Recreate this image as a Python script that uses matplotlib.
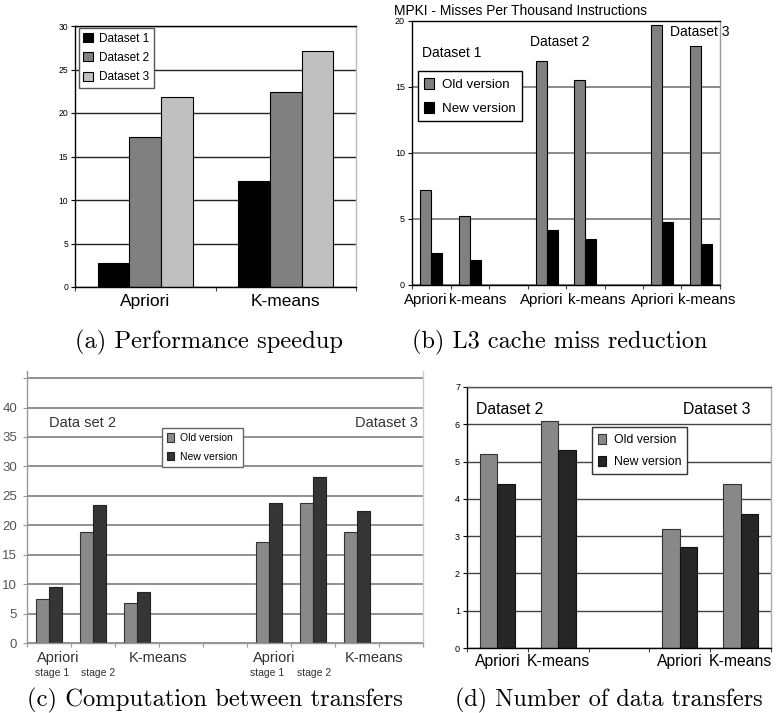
import numpy as np
import matplotlib
matplotlib.use("Agg")
import matplotlib.pyplot as plt

plt.rcParams['font.family'] = ['Liberation Sans', 'DejaVu Sans']

# (a) performance speedup
speedup_apps = ["Apriori", "K-means"]
speedup_ds1 = [2.8, 12.2]
speedup_ds2 = [17.2, 22.4]
speedup_ds3 = [21.8, 27.1]

# (b) L3 cache MPKI, slots with gaps between datasets
mpki_labels = ["Apriori", "k-means", "Apriori", "k-means", "Apriori", "k-means"]
mpki_slots = [0, 1, 3, 4, 6, 7]
mpki_old = [7.2, 5.2, 17.0, 15.5, 19.7, 18.1]
mpki_new = [2.4, 1.9, 4.2, 3.5, 4.8, 3.1]

# (c) computation between transfers
comp_slots = [0, 1, 2, 5, 6, 7]
comp_old = [7.5, 18.8, 6.8, 17.2, 23.7, 18.8]
comp_new = [9.5, 23.4, 8.6, 23.8, 28.2, 22.5]

# (d) number of data transfers
xfer_labels = ["Apriori", "K-means", "", "Apriori", "K-means"]
xfer_slots = [0, 1, 3, 4]
xfer_old = [5.2, 6.1, 3.2, 4.4]
xfer_new = [4.4, 5.3, 2.7, 3.6]

W, H = 777, 713
fig = plt.figure(figsize=(W / 100, H / 100), dpi=100)
renderer = fig.canvas.get_renderer()


def px_axes(left, top, right, bottom):
    return fig.add_axes([left / W, 1 - bottom / H, (right - left) / W, (bottom - top) / H])


def caption(x0, x1, y, s):
    # scale the font so the caption spans the same width as in the paper
    t = fig.text((x0 + x1) / 2 / W, 1 - y / H, s, family='cmr10', fontsize=14, ha='center', va='center')
    w = t.get_window_extent(renderer).width
    t.set_fontsize(14 * (x1 - x0) / w)


def style(ax, nslots, left='black', bottom='black', top='black', right='#bbbbbb'):
    ax.set_xlim(-0.5, nslots - 0.5)
    ax.spines['left'].set_color(left)
    ax.spines['bottom'].set_color(bottom)
    ax.spines['top'].set_color(top)
    ax.spines['right'].set_color(right)
    for s in ax.spines.values():
        s.set_linewidth(1.0)
    ax.set_xticks(np.arange(nslots + 1) - 0.5)
    ax.set_xticklabels([])
    ax.tick_params(axis='x', which='major', length=3, color='#444444')
    ax.set_axisbelow(True)


# ---- (a)
ax = px_axes(75, 26, 356, 287)
x = np.arange(len(speedup_apps))
bw = 0.225
ax.bar(x - bw, speedup_ds1, bw, color='black', edgecolor='black', lw=0.8, label='Dataset 1')
ax.bar(x, speedup_ds2, bw, color='#808080', edgecolor='black', lw=0.8, label='Dataset 2')
ax.bar(x + bw, speedup_ds3, bw, color='#c0c0c0', edgecolor='black', lw=0.8, label='Dataset 3')
ax.set_ylim(0, 30)
ax.set_yticks(range(0, 31, 5))
ax.yaxis.grid(True, color='#222222', lw=1.0)
style(ax, 2)
ax.set_xticks(x, minor=True)
ax.set_xticklabels(speedup_apps, minor=True, fontsize=12.5)
ax.tick_params(axis='x', which='minor', length=0, pad=5)
ax.tick_params(axis='y', labelsize=6.2, length=3, pad=2)
ax.legend(loc='upper left', bbox_to_anchor=(0.0, 1.005), fontsize=8.5, frameon=True, fancybox=False,
          edgecolor='#555555', framealpha=1, handlelength=0.8, handleheight=0.8, handletextpad=0.5,
          borderpad=0.4, labelspacing=0.6, borderaxespad=0.3)
caption(75, 342, 342, "(a) Performance speedup")

# ---- (b)
ax = px_axes(412, 21, 720, 285)
bw = 0.29
slots = np.array(mpki_slots)
ax.bar(slots - bw / 2, mpki_old, bw, color='#808080', edgecolor='black', lw=0.8, label='Old version')
ax.bar(slots + bw / 2, mpki_new, bw, color='black', edgecolor='black', lw=0.8, label='New version')
ax.set_ylim(0, 20)
ax.set_yticks(range(0, 21, 5))
ax.yaxis.grid(True, color='#777777', lw=1.2)
style(ax, 8, right='#999999')
ax.tick_params(axis='y', labelsize=6.5, length=3, pad=2)
# category names sit a little apart from the bar pairs in the original
for xl, s in zip([-0.14, 1.21, 2.88, 4.31, 5.76, 7.16], mpki_labels):
    ax.text(xl, -1.1, s, fontsize=10.8, ha='center', va='center')
ax.text(-0.06, 1.01, "MPKI - Misses Per Thousand Instructions", transform=ax.transAxes,
        fontsize=9.9, ha='left', va='bottom')
ax.text(-0.24, 17.6, "Dataset 1", fontsize=10, ha='left', va='center')
ax.text(2.57, 18.4, "Dataset 2", fontsize=10, ha='left', va='center')
ax.text(6.19, 19.2, "Dataset 3", fontsize=10, ha='left', va='center')
ax.legend(loc='upper left', bbox_to_anchor=(0.018, 0.81), fontsize=9.6, frameon=True, fancybox=False,
          edgecolor='black', framealpha=1, handlelength=0.7, handleheight=0.9, handletextpad=0.6,
          borderpad=0.5, labelspacing=0.8, borderaxespad=0)
caption(412, 708, 342, "(b) L3 cache miss reduction")

# ---- (c)
ax = px_axes(27, 371, 423, 643)
bw = 0.3
slots = np.array(comp_slots)
ax.bar(slots - bw / 2, comp_old, bw, color='#8a8a8a', edgecolor='#333333', lw=0.8, label='Old version')
ax.bar(slots + bw / 2, comp_new, bw, color='#353535', edgecolor='#222222', lw=0.8, label='New version')
ax.set_ylim(0, 46.2)
ax.set_yticks(range(0, 46, 5))
ax.set_yticklabels([str(v) for v in range(0, 41, 5)] + [""])
ax.yaxis.grid(True, color='#888888', lw=1.3)
style(ax, 9, left='#999999', bottom='#999999', top='none', right='#cccccc')
ax.tick_params(axis='y', labelsize=9.5, labelcolor='#555555', length=3, color='#999999', pad=4)
ax.tick_params(axis='x', color='#999999')
for xt, yt, s, fs in [(0.2, -2.6, "Apriori", 10.5), (0.07, -5.1, "stage 1", 7.5), (1.11, -5.1, "stage 2", 7.5),
                      (2.49, -2.6, "K-means", 10.5), (5.12, -2.6, "Apriori", 10.5), (4.95, -5.1, "stage 1", 7.5),
                      (6.02, -5.1, "stage 2", 7.5), (7.38, -2.6, "K-means", 10.5)]:
    ax.text(xt, yt, s, fontsize=fs, ha='center', va='center', color='#333333')
ax.text(0.0, 37.4, "Data set 2", fontsize=10.5, ha='left', va='center', color='#333333')
ax.text(6.95, 37.4, "Dataset 3", fontsize=10.5, ha='left', va='center', color='#333333')
ax.legend(loc='upper left', bbox_to_anchor=(0.34, 0.79), fontsize=7.5, frameon=True, fancybox=False,
          edgecolor='#666666', framealpha=1, handlelength=0.7, handleheight=0.9, handletextpad=0.6,
          borderpad=0.5, labelspacing=0.8, borderaxespad=0)
caption(27, 403, 700, "(c) Computation between transfers")

# ---- (d)
ax = px_axes(467, 387, 771, 648)
bw = 0.285
slots = np.array(xfer_slots)
ax.bar(slots - bw / 2, xfer_old, bw, color='#888888', edgecolor='#333333', lw=0.8, label='Old version')
ax.bar(slots + bw / 2, xfer_new, bw, color='#262626', edgecolor='#111111', lw=0.8, label='New version')
ax.set_ylim(0, 7)
ax.set_yticks(range(0, 8))
ax.yaxis.grid(True, color='#444444', lw=1.0)
style(ax, len(xfer_labels), right='#aaaaaa', top='#555555')
ax.set_xticks(np.arange(len(xfer_labels)), minor=True)
ax.set_xticklabels(xfer_labels, minor=True, fontsize=11.3)
ax.tick_params(axis='x', which='minor', length=0, pad=4)
ax.tick_params(axis='y', labelsize=6.5, length=3, pad=2)
ax.text(-0.36, 6.4, "Dataset 2", fontsize=11.3, ha='left', va='center')
ax.text(3.05, 6.4, "Dataset 3", fontsize=11.3, ha='left', va='center')
ax.legend(loc='upper left', bbox_to_anchor=(0.41, 0.845), fontsize=8.8, frameon=True, fancybox=False,
          edgecolor='#333333', framealpha=1, handlelength=0.7, handleheight=0.9, handletextpad=0.6,
          borderpad=0.5, labelspacing=0.8, borderaxespad=0)
caption(455, 763, 700, "(d) Number of data transfers")

fig.savefig("out.png", dpi=100)
